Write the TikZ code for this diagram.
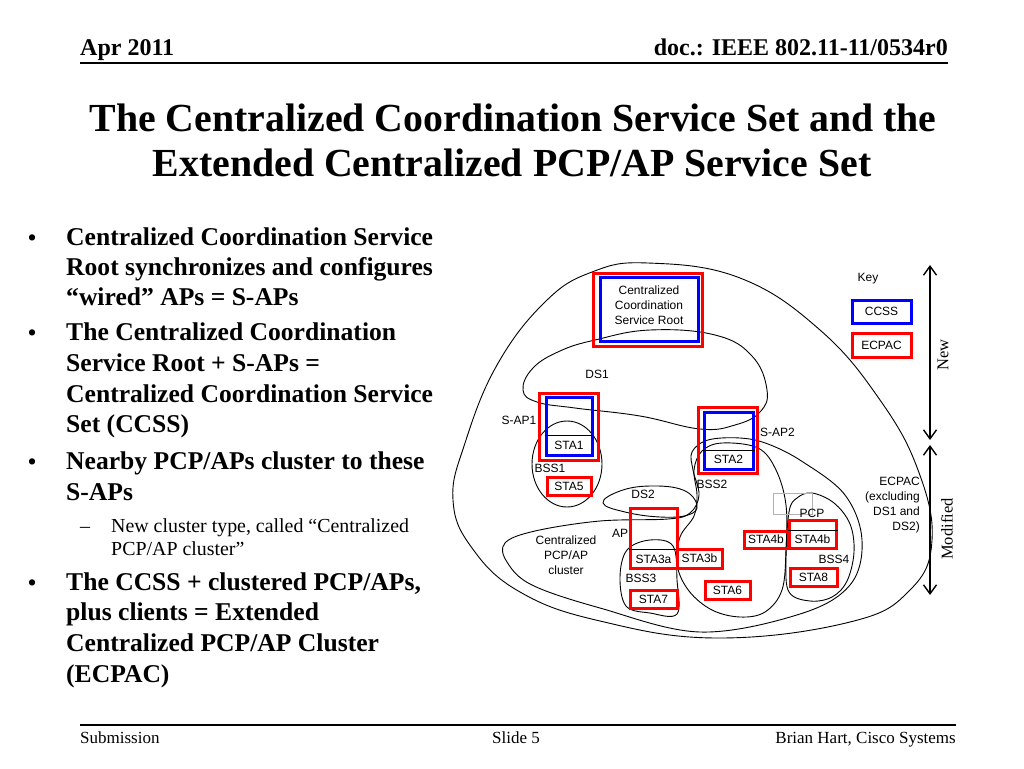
\documentclass[tikz,border=0pt]{standalone}
\usepackage{fontspec}
\setmainfont{Liberation Serif}
\setsansfont{Liberation Sans}
\usetikzlibrary{arrows.meta}
\begin{document}
\begin{tikzpicture}[x=1pt,y=-1pt,
  lab/.style={font=\sffamily\fontsize{12}{15}\selectfont, inner sep=0pt, align=center},
  redbox/.style={draw=red, line width=3pt, inner sep=0pt, font=\sffamily\fontsize{12}{15}\selectfont},
  bluebox/.style={draw=blue, line width=3pt, inner sep=0pt, font=\sffamily\fontsize{12}{15}\selectfont},
  blob/.style={draw=black, line width=0.9pt},
  divider/.style={draw=black, line width=0.8pt},
  bul/.style={font=\bfseries\fontsize{25.6}{30.7}\selectfont, anchor=base west, inner sep=0pt},
  dot/.style={font=\bfseries\fontsize{23}{25}\selectfont, anchor=base west, inner sep=0pt},
  subt/.style={font=\fontsize{19.9}{23}\selectfont, anchor=base west, inner sep=0pt},
  foot/.style={font=\fontsize{17}{20}\selectfont, inner sep=0pt},
  dbl/.style={{Straight Barb[length=9pt,width=13pt]}-{Straight Barb[length=9pt,width=13pt]}, line width=1.4pt},
  side/.style={font=\fontsize{16.5}{20}\selectfont, rotate=90, inner sep=0pt}
]
\useasboundingbox (0,0) rectangle (1024,768);
\fill[white] (0,0) rectangle (1024,768);

% header
\node[font=\bfseries\fontsize{24}{28}\selectfont, anchor=base west, inner sep=0pt] (hdl) at (80,56) {Apr 2011};
\node[font=\bfseries\fontsize{24}{28}\selectfont, anchor=base east, inner sep=0pt] (hdr) at (948,56) {doc.: IEEE 802.11-11/0534r0};
\draw[line width=1.8pt] (80,63) -- (948,63);

% title
\node[font=\bfseries\fontsize{39.8}{45}\selectfont, anchor=base, inner sep=0pt] (t1) at (513,131) {The Centralized Coordination Service Set and the};
\node[font=\bfseries\fontsize{39.8}{45}\selectfont, anchor=base, inner sep=0pt] (t2) at (512,176) {Extended Centralized PCP/AP Service Set};

% bullets
\node[dot] (d1) at (28,245) {•};
\node[bul] (b1a) at (66,245) {Centralized Coordination Service};
\node[bul] (b1b) at (66,275) {Root synchronizes and configures};
\node[bul] (b1c) at (66,305) {“wired” APs = S-APs};
\node[dot] (d2) at (28,340) {•};
\node[bul] (b2a) at (66,340) {The Centralized Coordination};
\node[bul] (b2b) at (66,371) {Service Root + S-APs =};
\node[bul] (b2c) at (66,402) {Centralized Coordination Service};
\node[bul] (b2d) at (66,432) {Set (CCSS)};
\node[dot] (d3) at (28,469) {•};
\node[bul] (b3a) at (66,469) {Nearby PCP/APs cluster to these};
\node[bul] (b3b) at (66,500) {S-APs};
\node[subt] (d3s) at (80,532) {–};
\node[subt] (s1a) at (111,532) {New cluster type, called “Centralized};
\node[subt] (s1b) at (111,555) {PCP/AP cluster”};
\node[dot] (d4) at (28,590) {•};
\node[bul] (b4a) at (66,590) {The CCSS + clustered PCP/APs,};
\node[bul] (b4b) at (66,620) {plus clients = Extended};
\node[bul] (b4c) at (66,651) {Centralized PCP/AP Cluster};
\node[bul] (b4d) at (66,682) {(ECPAC)};

% footer
\draw[line width=1.3pt] (80,725) -- (956,725);
\node[foot, anchor=base west] (f1) at (80,743) {Submission};
\node[foot, anchor=base] (f2) at (516,743) {Slide 5};
\node[foot, anchor=base east] (f3) at (956,743) {Brian Hart, Cisco Systems};

% ---------- diagram blobs ----------
% outer ECPAC
\draw[blob] plot[smooth cycle, tension=0.7] coordinates {
 (648,263) (740,278) (820,330) (880,400) (918,470) (932,540) (910,590)
 (850,622) (717,638) (600,621) (520,592) (472,548) (453,500) (465,443)
 (497,365) (545,302) (592,272)};
% DS1
\draw[blob] plot[smooth cycle, tension=0.7] coordinates {
 (595,340) (650,330) (715,335) (752,356) (767,390) (760,412) (735,425)
 (700,429) (640,416) (575,408) (537,402) (523,390) (533,368) (560,351)};
% cluster blob
\draw[blob] plot[smooth cycle, tension=0.6] coordinates {
 (505,543) (535,531) (600,521) (668,519) (690,513) (699,495) (693,470)
 (692,452) (708,440) (740,438) (768,444) (803,462) (845,495) (862,540)
 (850,585) (800,614) (700,632) (600,608) (532,585) (507,562)};
% BSS2
\draw[blob] plot[smooth cycle, tension=0.6] coordinates {
 (722,443) (758,448) (776,470) (786,505) (786,550) (782,590) (765,612)
 (740,617) (712,610) (689,591) (677,565) (680,537) (694,516) (697,495)
 (694,470) (702,451)};
% DS2
\draw[blob] plot[smooth cycle, tension=0.7] coordinates {
 (603,503) (620,491) (650,486) (683,490) (697,505) (688,515) (660,517) (625,512)};
% BSS1
\draw[blob] (567,464) ellipse [x radius=35, y radius=43];
% BSS3
\draw[blob] plot[smooth cycle, tension=0.6] coordinates {
 (650,540) (673,546) (677,580) (677,614) (650,613) (626,606) (620,577) (627,550)};
% BSS4
\draw[blob] plot[smooth cycle, tension=0.6] coordinates {
 (789,512) (797,498) (812,493) (834,503) (850,524) (854,552) (847,581)
 (832,597) (810,601) (789,592) (786,560)};
% gray frame
\draw[gray!60, line width=0.6pt] (773,493) rectangle (812,514);

% ---------- boxes ----------
\node[redbox, minimum width=109pt, minimum height=73pt] (ccsrR) at (647.5,309.5) {};
\node[bluebox, minimum width=98pt, minimum height=64pt] (ccsrB) at (649,309) {};
\node[lab] (ccsrT) at (649,305) {Centralized\\Coordination\\Service Root};

\node[redbox, minimum width=59pt, minimum height=67pt] (sap1R) at (568.5,426.5) {};
\node[bluebox, minimum width=46pt, minimum height=58pt] (sap1B) at (569,426) {};
\draw[divider] (sap1B.west |- 0,435) -- (sap1B.east |- 0,435);
\node[lab] (sta1) at (569,445) {STA1};
\node[redbox, minimum width=44pt, minimum height=18pt] (sta5) at (569,486) {STA5};

\node[redbox, minimum width=59pt, minimum height=66pt] (sap2R) at (727.5,440) {};
\node[bluebox, minimum width=49pt, minimum height=57pt] (sap2B) at (728.5,440.5) {};
\draw[divider] (sap2B.west |- 0,450) -- (sap2B.east |- 0,450);
\node[lab] (sta2) at (728.5,459.5) {STA2};

\node[redbox, minimum width=47pt, minimum height=60pt] (apR) at (653.5,538) {};
\draw[divider] (apR.west |- 0,549) -- (apR.east |- 0,549);
\node[lab] (sta3a) at (653.5,559) {STA3a};
\node[redbox, minimum width=45pt, minimum height=19pt] (sta3b) at (699.5,558.5) {STA3b};
\node[redbox, minimum width=47pt, minimum height=18pt] (sta7) at (653.5,599) {STA7};
\node[redbox, minimum width=45pt, minimum height=18pt] (sta6) at (727.5,590) {STA6};
\node[redbox, minimum width=44pt, minimum height=17pt] (sta4bL) at (766,539.5) {STA4b};
\node[redbox, minimum width=47pt, minimum height=28pt] (pcpR) at (812.5,534) {};
\draw[divider] (pcpR.west |- 0,530) -- (pcpR.east |- 0,530);
\node[lab] (sta4bR) at (812.5,539.5) {STA4b};
\node[redbox, minimum width=47pt, minimum height=18pt] (sta8) at (813.5,577) {STA8};

% key
\node[lab] (key) at (868,279) {Key};
\node[bluebox, minimum width=59pt, minimum height=23pt] (kccss) at (881.5,311.5) {CCSS};
\node[redbox, minimum width=59pt, minimum height=24pt] (kecpac) at (881.5,345) {ECPAC};

% labels
\node[lab] (ds1) at (597,374) {DS1};
\node[lab] (sap1L) at (519,420) {S-AP1};
\node[lab] (bss1) at (550,468) {BSS1};
\node[lab, anchor=west] (sap2L) at (760,432) {S-AP2};
\node[lab] (bss2) at (712,484) {BSS2};
\node[lab] (ds2) at (643,494) {DS2};
\node[lab] (apL) at (620,533) {AP};
\node[lab] (clus) at (566,555) {Centralized\\PCP/AP\\cluster};
\node[lab] (bss3) at (641,578) {BSS3};
\node[lab] (pcpL) at (812,513) {PCP};
\node[lab] (bss4) at (834,559) {BSS4};
\node[lab, align=right, anchor=east] (ecpacL) at (920,505) {ECPAC\\(excluding\\DS1 and\\DS2)};

% side arrows
\coordinate (newTop) at (930,265);
\coordinate (newBot) at (930,440);
\coordinate (modTop) at (930,445);
\coordinate (modBot) at (930,595);
\draw[dbl] (newTop) -- (newBot);
\draw[dbl] (modTop) -- (modBot);
\node[side] (newL) at (943,355) {New};
\node[side] (modL) at (947,529) {Modified};
\end{tikzpicture}
\end{document}
